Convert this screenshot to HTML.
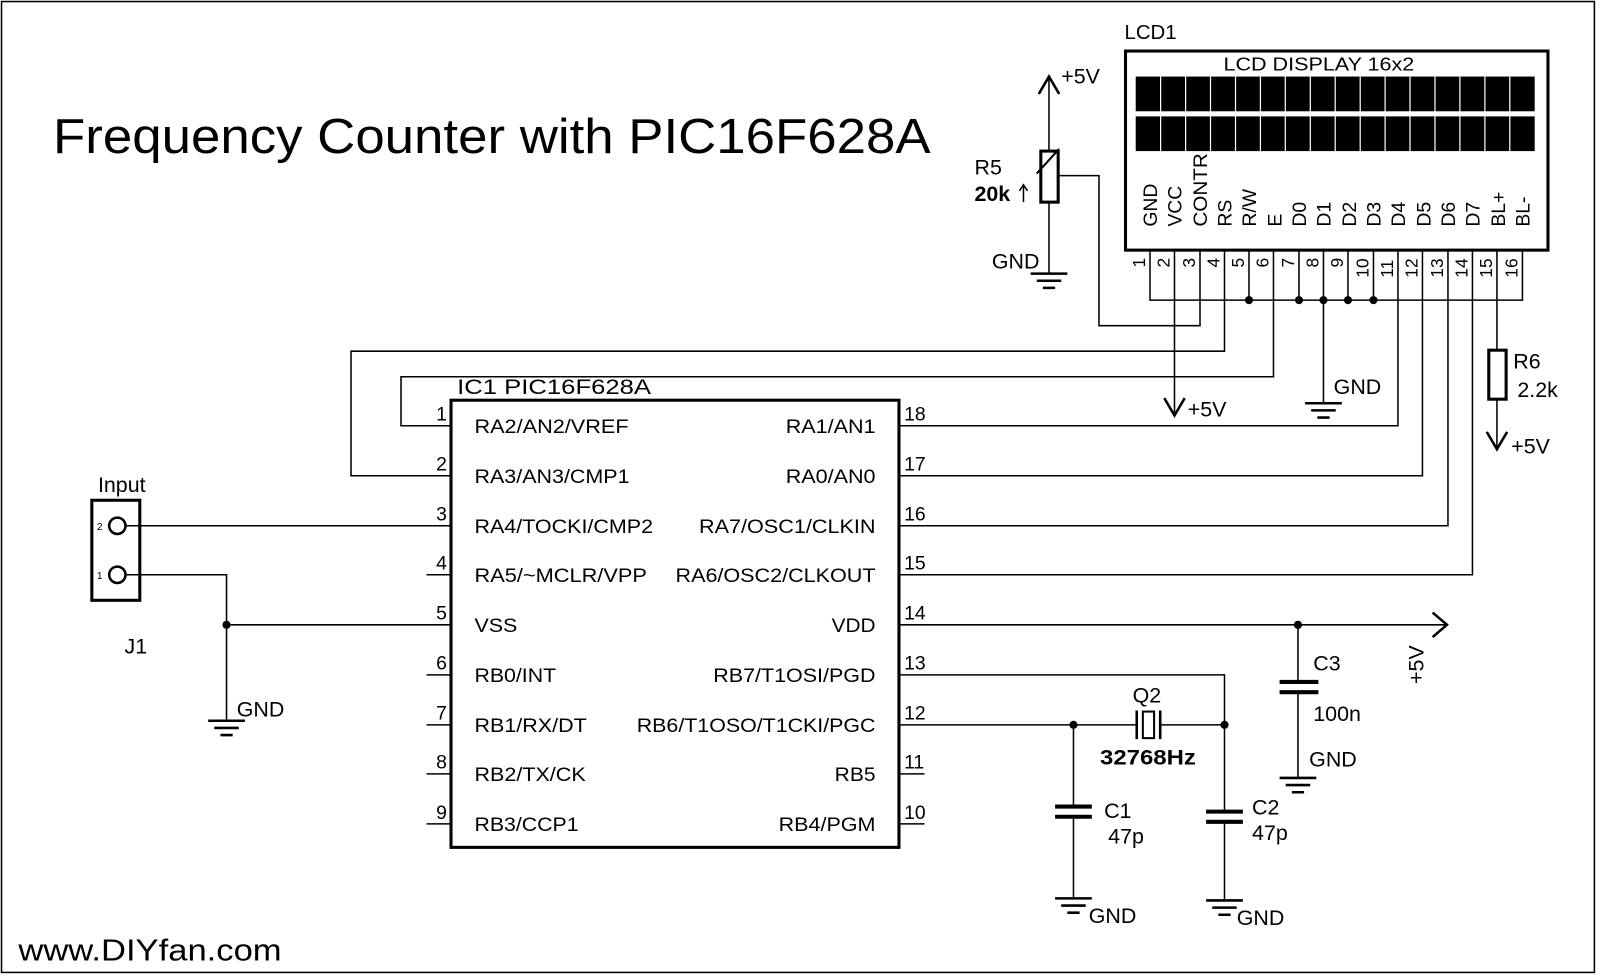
<!DOCTYPE html>
<html><head><meta charset="utf-8"><style>
html,body{margin:0;padding:0;background:#fff;}
svg{display:block;}
text{font-family:"Liberation Sans",Arial,sans-serif;fill:#000;}
</style></head><body>
<svg width="1600" height="976" viewBox="0 0 1568 956" preserveAspectRatio="none" xmlns="http://www.w3.org/2000/svg">
<rect x="0" y="0" width="1568" height="956" fill="#fff"/>
<rect x="1.5" y="1.5" width="1561" height="951" fill="none" stroke="#000" stroke-width="1.5"/>
<text x="52" y="150" font-size="48" textLength="860" lengthAdjust="spacingAndGlyphs">Frequency Counter with PIC16F628A</text>
<text x="18" y="941" font-size="30" textLength="258" lengthAdjust="spacingAndGlyphs">www.DIYfan.com</text>

<g stroke="#000" stroke-width="1.5" fill="none">
<rect x="442" y="392" width="439" height="438" stroke-width="3"/>
<path d="M418 563H442M418 661H442M418 710H442M418 758H442M418 807H442"/>
<path d="M881 758H906M881 807H906"/>
<path d="M442 417H393V369H1248V245"/>
<path d="M442 466H344V344H1200V245"/>
<path d="M442 515H123"/>
<rect x="90" y="490" width="47" height="98" stroke-width="3"/>
<circle cx="115" cy="515" r="8" stroke-width="2.5"/>
<circle cx="115" cy="563" r="8" stroke-width="2.5"/>
<path d="M123 563H222V706M222 612H442"/>
<path d="M204 706H240M210 713H234M216 720H228" stroke-width="2.5"/>
<path d="M881 417H1370V245"/>
<path d="M881 466H1394V245"/>
<path d="M881 515H1419V245"/>
<path d="M881 563H1443V245"/>
<path d="M881 612H1418"/>
<path d="M1404 600L1418 612L1404 624" stroke-width="2.5"/>
<path d="M1272 612V668M1272 678V762"/>
<path d="M1254 668H1292M1254 678H1292" stroke-width="4"/>
<path d="M1254 762H1290M1260 769H1284M1266 776H1278" stroke-width="2.5"/>
<path d="M881 661H1200V710M881 710H1114M1137 710H1200"/>
<path d="M1114 696V724M1137 696V724" stroke-width="2.5"/>
<rect x="1120" y="697" width="11" height="26" stroke-width="2"/>
<path d="M1052 710V790M1052 800V880M1200 710V795M1200 805V882"/>
<path d="M1034 790H1070M1034 800H1070M1182 795H1218M1182 805H1218" stroke-width="4"/>
<path d="M1034 880H1070M1040 887H1064M1046 894H1058" stroke-width="2.5"/>
<path d="M1182 882H1218M1188 889H1212M1194 896H1206" stroke-width="2.5"/>
<rect x="1103" y="50" width="414" height="195" stroke-width="3"/>
<path d="M1127 245V294H1492V245M1151 245V405M1176 245V319H1077V172H1037M1224 245V294M1273 245V294M1297 245V395M1321 245V294M1346 245V294M1467 245V343M1467 391V440"/>
<path d="M1141 390L1151 407L1161 390M1457 423L1467 440L1477 423" stroke-width="2.5"/>
<path d="M1279 395H1315M1285 402H1309M1291 409H1303" stroke-width="2.5"/>
<rect x="1459" y="343" width="17" height="48" stroke-width="3"/>
<path d="M1028 75V148M1028 198V268"/>
<path d="M1018 92L1028 75L1038 92" stroke-width="2.5"/>
<rect x="1020" y="148" width="17" height="50" stroke-width="3"/>
<path d="M1010 268H1046M1016 275H1040M1022 282H1034" stroke-width="2.5"/>
<path d="M1016 170L1036 148M1033 150L1038 146" stroke-width="2"/>
<path d="M1003 198V182M999 187L1003 181L1007 187" stroke-width="1.5"/>
</g>
<g fill="#000">
<circle cx="222" cy="612" r="4"/>
<circle cx="1272" cy="612" r="4"/>
<circle cx="1052" cy="710" r="4"/>
<circle cx="1200" cy="710" r="4"/>
<circle cx="1224" cy="294" r="4"/>
<circle cx="1273" cy="294" r="4"/>
<circle cx="1297" cy="294" r="4"/>
<circle cx="1321" cy="294" r="4"/>
<circle cx="1346" cy="294" r="4"/>
</g>
<g fill="#000">
<rect x="1113" y="75" width="391" height="34"/>
<rect x="1113" y="114" width="391" height="34"/>
</g>
<g stroke="#fff" stroke-width="1.2">
<path d="M1137.4 75V148M1161.9 75V148M1186.3 75V148M1210.8 75V148M1235.2 75V148M1259.6 75V148M1284.1 75V148M1308.5 75V148M1333 75V148M1357.4 75V148M1381.8 75V148M1406.3 75V148M1430.7 75V148M1455.2 75V148M1479.6 75V148"/>
</g>
<text x="1199" y="69" font-size="18" textLength="187" lengthAdjust="spacingAndGlyphs">LCD DISPLAY 16x2</text>
<text x="1102" y="38" font-size="20">LCD1</text>
<g font-size="19">
<text transform="translate(1134,222) rotate(-90)">GND</text>
<text transform="translate(1158,222) rotate(-90)">VCC</text>
<text transform="translate(1183,222) rotate(-90)" textLength="72" lengthAdjust="spacingAndGlyphs">CONTR</text>
<text transform="translate(1207,222) rotate(-90)">RS</text>
<text transform="translate(1231,222) rotate(-90)">R/W</text>
<text transform="translate(1256,222) rotate(-90)">E</text>
<text transform="translate(1280,222) rotate(-90)">D0</text>
<text transform="translate(1304,222) rotate(-90)">D1</text>
<text transform="translate(1329,222) rotate(-90)">D2</text>
<text transform="translate(1353,222) rotate(-90)">D3</text>
<text transform="translate(1377,222) rotate(-90)">D4</text>
<text transform="translate(1402,222) rotate(-90)">D5</text>
<text transform="translate(1426,222) rotate(-90)">D6</text>
<text transform="translate(1450,222) rotate(-90)">D7</text>
<text transform="translate(1475,222) rotate(-90)">BL+</text>
<text transform="translate(1499,222) rotate(-90)">BL-</text>
</g>
<g font-size="17">
<text transform="translate(1122,262) rotate(-90)">1</text>
<text transform="translate(1146,262) rotate(-90)">2</text>
<text transform="translate(1171,262) rotate(-90)">3</text>
<text transform="translate(1195,262) rotate(-90)">4</text>
<text transform="translate(1219,262) rotate(-90)">5</text>
<text transform="translate(1243,262) rotate(-90)">6</text>
<text transform="translate(1268,262) rotate(-90)">7</text>
<text transform="translate(1292,262) rotate(-90)">8</text>
<text transform="translate(1316,262) rotate(-90)">9</text>
<text transform="translate(1341,272) rotate(-90)">10</text>
<text transform="translate(1365,272) rotate(-90)">11</text>
<text transform="translate(1389,272) rotate(-90)">12</text>
<text transform="translate(1414,272) rotate(-90)">13</text>
<text transform="translate(1438,272) rotate(-90)">14</text>
<text transform="translate(1462,272) rotate(-90)">15</text>
<text transform="translate(1487,272) rotate(-90)">16</text>
</g>
<g font-size="21">
<text x="1040" y="82">+5V</text>
<text x="955" y="171">R5</text>
<text x="955" y="197" font-weight="bold">20k</text>
<text x="972" y="263">GND</text>
<text x="1164" y="408">+5V</text>
<text x="1307" y="386">GND</text>
<text x="1483" y="361">R6</text>
<text x="1487" y="389">2.2k</text>
<text x="1481" y="444">+5V</text>
<text x="448" y="386" textLength="190" lengthAdjust="spacingAndGlyphs">IC1   PIC16F628A</text>
<text x="96" y="482">Input</text>
<text x="122" y="640">J1</text>
<text x="232" y="702">GND</text>
<text x="1287" y="657">C3</text>
<text x="1287" y="706">100n</text>
<text x="1283" y="751">GND</text>
<text transform="translate(1395,670) rotate(-90)">+5V</text>
<text x="1110" y="688">Q2</text>
<text x="1078" y="749" font-weight="bold" textLength="94" lengthAdjust="spacingAndGlyphs">32768Hz</text>
<text x="1082" y="801">C1</text>
<text x="1086" y="826">47p</text>
<text x="1067" y="904">GND</text>
<text x="1227" y="798">C2</text>
<text x="1227" y="823">47p</text>
<text x="1212" y="906">GND</text>
</g>
<g font-size="10">
<text x="95" y="519">2</text>
<text x="95" y="567">1</text>
</g>
<g font-size="19" lengthAdjust="spacingAndGlyphs">
<text x="465" y="424" textLength="151" lengthAdjust="spacingAndGlyphs">RA2/AN2/VREF</text>
<text x="465" y="473" textLength="152" lengthAdjust="spacingAndGlyphs">RA3/AN3/CMP1</text>
<text x="465" y="522" textLength="175" lengthAdjust="spacingAndGlyphs">RA4/TOCKI/CMP2</text>
<text x="465" y="570" textLength="169" lengthAdjust="spacingAndGlyphs">RA5/~MCLR/VPP</text>
<text x="465" y="619" textLength="42" lengthAdjust="spacingAndGlyphs">VSS</text>
<text x="465" y="668" textLength="80" lengthAdjust="spacingAndGlyphs">RB0/INT</text>
<text x="465" y="717" textLength="110" lengthAdjust="spacingAndGlyphs">RB1/RX/DT</text>
<text x="465" y="765" textLength="109" lengthAdjust="spacingAndGlyphs">RB2/TX/CK</text>
<text x="465" y="814" textLength="102" lengthAdjust="spacingAndGlyphs">RB3/CCP1</text>
</g>
<g font-size="19">
<text x="770" y="424" textLength="88" lengthAdjust="spacingAndGlyphs">RA1/AN1</text>
<text x="770" y="473" textLength="88" lengthAdjust="spacingAndGlyphs">RA0/AN0</text>
<text x="685" y="522" textLength="173" lengthAdjust="spacingAndGlyphs">RA7/OSC1/CLKIN</text>
<text x="662" y="570" textLength="196" lengthAdjust="spacingAndGlyphs">RA6/OSC2/CLKOUT</text>
<text x="815" y="619" textLength="43" lengthAdjust="spacingAndGlyphs">VDD</text>
<text x="699" y="668" textLength="159" lengthAdjust="spacingAndGlyphs">RB7/T1OSI/PGD</text>
<text x="624" y="717" textLength="234" lengthAdjust="spacingAndGlyphs">RB6/T1OSO/T1CKI/PGC</text>
<text x="818" y="765" textLength="40" lengthAdjust="spacingAndGlyphs">RB5</text>
<text x="763" y="814" textLength="95" lengthAdjust="spacingAndGlyphs">RB4/PGM</text>
</g>
<g font-size="19" text-anchor="end">
<text x="438" y="412">1</text><text x="438" y="461">2</text><text x="438" y="510">3</text>
<text x="438" y="558">4</text><text x="438" y="607">5</text><text x="438" y="656">6</text>
<text x="438" y="705">7</text><text x="438" y="753">8</text><text x="438" y="802">9</text>
</g>
<g font-size="19">
<text x="886" y="412">18</text><text x="886" y="461">17</text><text x="886" y="510">16</text>
<text x="886" y="558">15</text><text x="886" y="607">14</text><text x="886" y="656">13</text>
<text x="886" y="705">12</text><text x="886" y="753">11</text><text x="886" y="802">10</text>
</g>
</svg>
</body></html>
